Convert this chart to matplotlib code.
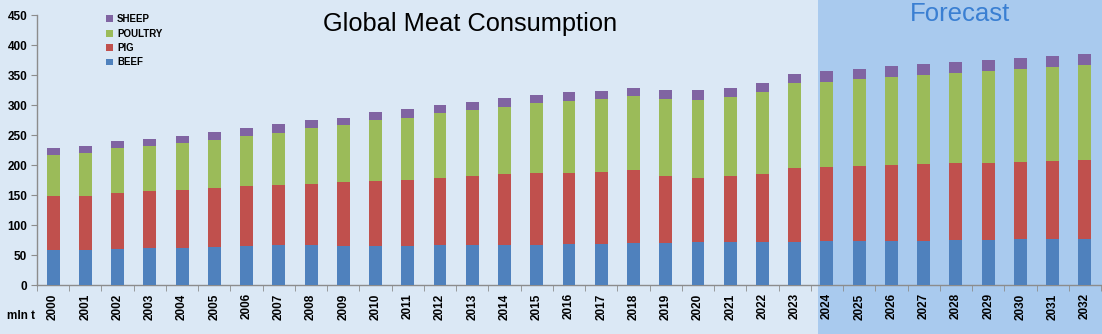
import matplotlib
matplotlib.use("Agg")
import matplotlib.pyplot as plt
from matplotlib.patches import Rectangle
import numpy as np

years = [str(y) for y in range(2000, 2033)]
beef = [59, 58, 60, 61, 62, 63, 65, 66, 66, 65, 65, 65, 66, 67, 67, 67, 68,
        69, 70, 70, 71, 72, 72, 72, 73, 73, 74, 74, 75, 75, 76, 76, 77]
pig = [89, 91, 93, 95, 96, 98, 100, 101, 103, 106, 109, 110, 113, 115, 118, 119, 119,
       120, 121, 111, 107, 109, 113, 123, 124, 126, 126, 127, 128, 129, 129, 130, 131]
poultry = [68, 71, 75, 76, 78, 81, 83, 87, 93, 95, 101, 104, 108, 110, 112, 117, 120,
           121, 124, 129, 131, 133, 136, 141, 142, 144, 147, 149, 151, 153, 155, 157, 158]
sheep = [12, 12, 12, 12, 12, 13, 14, 14, 13, 13, 13, 14, 13, 13, 14, 14, 14,
         14, 14, 15, 16, 15, 16, 16, 17, 17, 18, 18, 18, 18, 18, 19, 19]
series_names = ["BEEF", "PIG", "POULTRY", "SHEEP"]
series_colors = ["#4f81bd", "#c0504d", "#9bbb59", "#8064a2"]
yticks = [0, 50, 100, 150, 200, 250, 300, 350, 400, 450]

plt.rcParams['font.family'] = ['Liberation Sans', 'DejaVu Sans']

W, H = 1102, 334
fig = plt.figure(figsize=(W / 100, H / 100), dpi=100)
fig.patch.set_facecolor("#dbe8f5")

# forecast background panel
fig.patches.append(Rectangle((818 / W, 0), (W - 818) / W, 1, transform=fig.transFigure,
                             facecolor="#a9caee", edgecolor="none", zorder=-10))

ax = fig.add_axes([37 / W, 49 / H, (1101 - 37) / W, 270 / H])
ax.set_facecolor("none")
ax.set_zorder(1)

x = np.arange(len(years))
bottom = np.zeros(len(years))
handles = []
for name, vals, col in zip(series_names, [beef, pig, poultry, sheep], series_colors):
    b = ax.bar(x, vals, width=0.4, bottom=bottom, color=col, label=name, zorder=3)
    bottom += np.array(vals)
    handles.append(b)

ax.set_xlim(-0.5, len(years) - 0.5)
ax.set_ylim(0, 450)
ax.set_yticks(yticks)
ax.set_yticklabels([str(v) for v in yticks], fontsize=8.5, fontweight='bold')
ax.set_xticks(x)
ax.set_xticklabels(years, rotation=90, fontsize=8.5, fontweight='bold')
ax.set_xticks(np.arange(len(years) + 1) - 0.5, minor=True)
ax.tick_params(axis='x', which='major', length=0, pad=6)
ax.tick_params(axis='x', which='minor', length=4, color="#8c8c8c", direction='out')
ax.tick_params(axis='y', length=4, color="#8c8c8c", direction='out', pad=3)

for s in ["top", "right"]:
    ax.spines[s].set_visible(False)
for s in ["left", "bottom"]:
    ax.spines[s].set_color("#8c8c8c")
    ax.spines[s].set_linewidth(1)

leg = ax.legend(handles[::-1], series_names[::-1], loc='upper left',
                bbox_to_anchor=(0.057, 1.035), frameon=False,
                prop={'weight': 'bold', 'size': 7}, handlelength=0.7,
                handleheight=0.7, handletextpad=0.4, labelspacing=0.45)

fig.text(470 / W, 1 - 24 / H, "Global Meat Consumption", fontsize=18.3,
         ha='center', va='center', color='black')
fig.text(960 / W, 1 - 14 / H, "Forecast", fontsize=18.5,
         ha='center', va='center', color='#3a7fd2')
fig.text(21 / W, 1 - 316 / H, "mln t", fontsize=8.5, fontweight='bold',
         ha='center', va='center')

fig.savefig("out.png", dpi=100, facecolor=fig.get_facecolor())
